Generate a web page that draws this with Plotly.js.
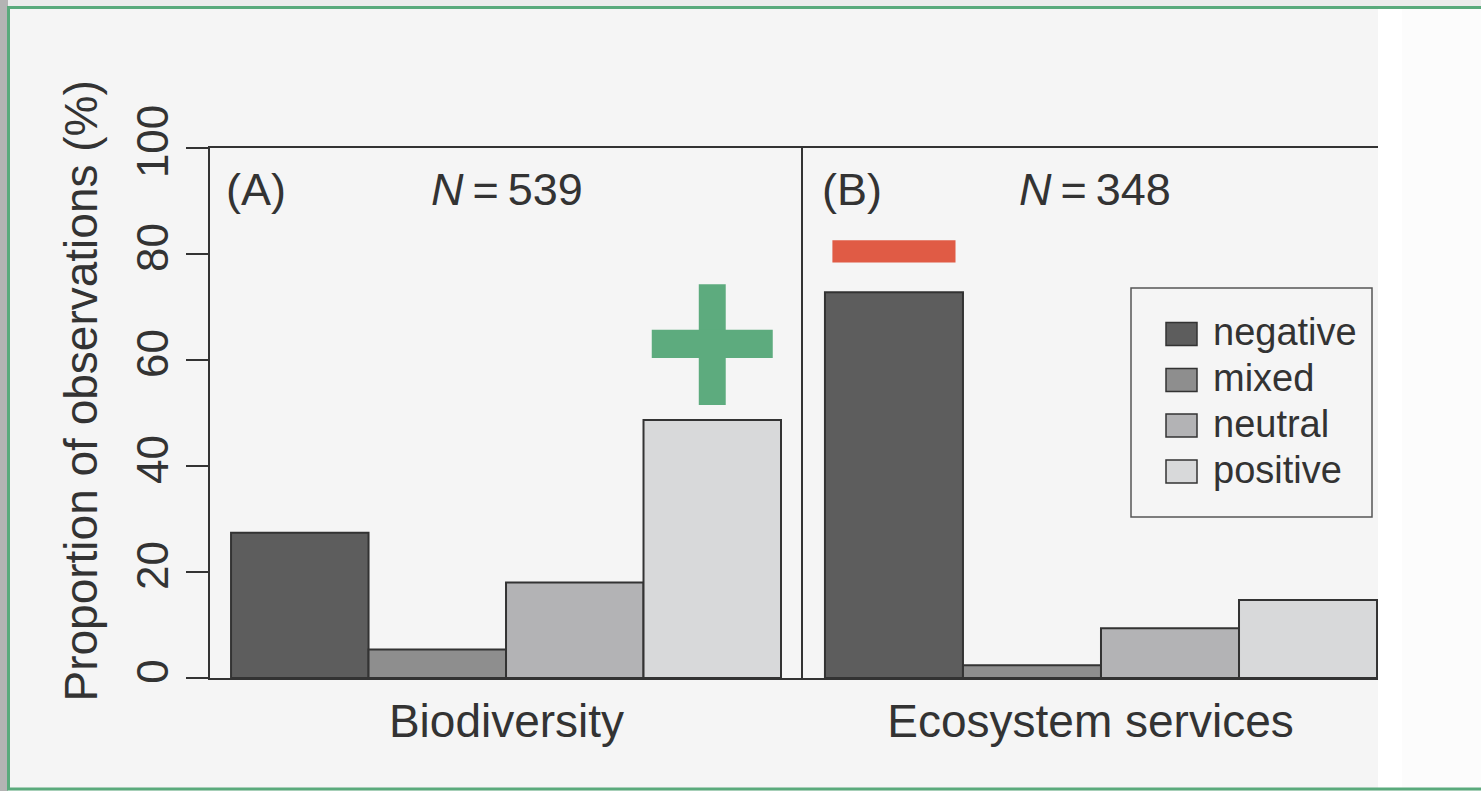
<!DOCTYPE html>
<html>
<head>
<meta charset="utf-8">
<script src="https://cdn.plot.ly/plotly-3.0.1.min.js"></script>
<style>
  html, body { margin: 0; padding: 0; background: #f5f5f5; }
  #chart { width: 1481px; height: 791px; }
</style>
</head>
<body>
<div id="chart"></div>
<script>
// ---- data ----
const categories = ['negative', 'mixed', 'neutral', 'positive'];
const panelNames = ['Biodiversity', 'Ecosystem services'];
const panelTags = ['(A)', '(B)'];
const sampleSizes = [539, 348];
const biodiversityValues = [27.4, 5.4, 18.0, 48.7];
const ecosystemValues = [72.8, 2.4, 9.4, 14.7];
const yTickValues = [0, 20, 40, 60, 80, 100];
const yTitle = 'Proportion of observations (%)';

// ---- styles ----
const barColors = ['#5d5d5d', '#8e8e8e', '#b3b3b5', '#d8d9da'];
const ink = '#333333';
const FONT = 'Liberation Sans, Arial, Helvetica, sans-serif';
const W = 1481, H = 791;
const px = v => v / W;
const py = v => 1 - v / H;

const panelValues = [biodiversityValues, ecosystemValues];
const axisIds = [['x', 'y'], ['x2', 'y2']];

const traces = [];
panelValues.forEach((vals, p) => {
  categories.forEach((cat, i) => {
    traces.push({
      type: 'bar',
      x: [i],
      y: [vals[i]],
      width: [1],
      name: cat,
      legendgroup: cat,
      showlegend: false,
      xaxis: axisIds[p][0],
      yaxis: axisIds[p][1],
      marker: { color: barColors[i], line: { color: ink, width: 2 } },
      hovertemplate: panelNames[p] + '<br>' + cat + ': %{y}%<extra></extra>'
    });
  });
});

const common = {
  showgrid: false, zeroline: false, showline: true,
  linecolor: ink, linewidth: 2, automargin: false
};

const shapes = [];
// background pieces (frame of the original figure)
shapes.push({ type: 'rect', xref: 'paper', yref: 'paper', x0: px(-5), x1: px(8), y0: py(-5), y1: py(800),
  fillcolor: '#b4b4b4', line: { width: 0 }, layer: 'below' });
shapes.push({ type: 'rect', xref: 'paper', yref: 'paper', x0: px(8), x1: px(1490), y0: py(-5), y1: py(7),
  fillcolor: '#ececec', line: { width: 0 }, layer: 'below' });
shapes.push({ type: 'rect', xref: 'paper', yref: 'paper', x0: px(1378), x1: px(1402), y0: py(8), y1: py(788),
  fillcolor: '#ffffff', line: { width: 0 }, layer: 'below' });
shapes.push({ type: 'rect', xref: 'paper', yref: 'paper', x0: px(1402), x1: px(1490), y0: py(8), y1: py(788),
  fillcolor: '#fcfcfc', line: { width: 0 }, layer: 'below' });
shapes.push({ type: 'rect', xref: 'paper', yref: 'paper', x0: px(8.5), x1: px(1500), y0: py(7.5), y1: py(789),
  fillcolor: 'rgba(0,0,0,0)', line: { color: '#5aaa7c', width: 3 }, layer: 'above' });

// green plus above the positive bar of panel A
const plusColor = '#5dab7e';
const posIdx = categories.indexOf('positive');
shapes.push({ type: 'rect', xref: 'x', yref: 'y', x0: posIdx - 0.098, x1: posIdx + 0.098, y0: 51.5, y1: 74.3,
  fillcolor: plusColor, line: { width: 0 } });
shapes.push({ type: 'rect', xref: 'x', yref: 'y', x0: posIdx - 0.44, x1: posIdx + 0.44, y0: 60.4, y1: 65.7,
  fillcolor: plusColor, line: { width: 0 } });
// red minus above the negative bar of panel B
const negIdx = categories.indexOf('negative');
shapes.push({ type: 'rect', xref: 'x2', yref: 'y2', x0: negIdx - 0.446, x1: negIdx + 0.446, y0: 78.4, y1: 82.6,
  fillcolor: '#e05b45', line: { width: 0 } });

// legend box
shapes.push({ type: 'rect', xref: 'paper', yref: 'paper', x0: px(1131), x1: px(1372), y0: py(517), y1: py(288),
  fillcolor: 'rgba(0,0,0,0)', line: { color: '#555555', width: 1.5 } });
const legendRowY = [334, 380, 425.5, 471.5];
const annotations = [];
categories.forEach((cat, i) => {
  shapes.push({ type: 'rect', xref: 'paper', yref: 'paper',
    x0: px(1166), x1: px(1197), y0: py(legendRowY[i] + 11.5), y1: py(legendRowY[i] - 11.5),
    fillcolor: barColors[i], line: { color: ink, width: 1.5 } });
  annotations.push({ xref: 'paper', yref: 'paper', x: px(1211), y: py(legendRowY[i] - 2),
    xanchor: 'left', yanchor: 'middle', showarrow: false, text: cat,
    font: { family: FONT, size: 38, color: ink } });
});

// panel tags and sample sizes
const tagX = [224, 820];
const nX = [507, 1095];
panelTags.forEach((t, p) => {
  annotations.push({ xref: 'paper', yref: 'paper', x: px(tagX[p]), y: py(189), xanchor: 'left', yanchor: 'middle',
    showarrow: false, text: t, font: { family: FONT, size: 45, color: ink } });
  annotations.push({ xref: 'paper', yref: 'paper', x: px(nX[p]), y: py(189), xanchor: 'center', yanchor: 'middle',
    showarrow: false, text: '<i>N</i>\u2009=\u2009' + sampleSizes[p], font: { family: FONT, size: 45, color: ink } });
});

// y-axis title
annotations.push({ xref: 'paper', yref: 'paper', x: px(80), y: py(391.5), xanchor: 'center', yanchor: 'middle',
  textangle: -90, showarrow: false, text: yTitle, font: { family: FONT, size: 46, color: ink } });

const layout = {
  width: W, height: H, autosize: false,
  margin: { l: 0, r: 0, t: 0, b: 0, pad: 0 },
  paper_bgcolor: '#f5f5f5', plot_bgcolor: 'rgba(0,0,0,0)',
  font: { family: FONT, color: ink },
  barmode: 'overlay', showlegend: false,
  xaxis: Object.assign({}, common, {
    domain: [px(210), px(803)], range: [-0.653, 3.66], anchor: 'y', mirror: true,
    ticks: '', showticklabels: false,
    title: { text: panelNames[0], font: { family: FONT, size: 46, color: ink }, standoff: 26 }
  }),
  xaxis2: Object.assign({}, common, {
    domain: [px(803), px(1378)], range: [-0.659, 3.507], anchor: 'y2', mirror: true,
    ticks: '', showticklabels: false,
    title: { text: panelNames[1], font: { family: FONT, size: 46, color: ink }, standoff: 26 }
  }),
  yaxis: Object.assign({}, common, {
    domain: [py(678), py(148)], range: [0, 100], anchor: 'x',
    tickvals: yTickValues, ticktext: yTickValues.map(String),
    ticks: 'outside', ticklen: 22, tickwidth: 2, tickcolor: ink,
    tickangle: -90, tickfont: { family: FONT, size: 44, color: ink }
  }),
  yaxis2: Object.assign({}, common, {
    domain: [py(678), py(148)], range: [0, 100], matches: 'y', anchor: 'x2',
    ticks: '', showticklabels: false
  }),
  shapes: shapes,
  annotations: annotations
};

Plotly.newPlot('chart', traces, layout, { displayModeBar: false, responsive: false });
</script>
</body>
</html>
